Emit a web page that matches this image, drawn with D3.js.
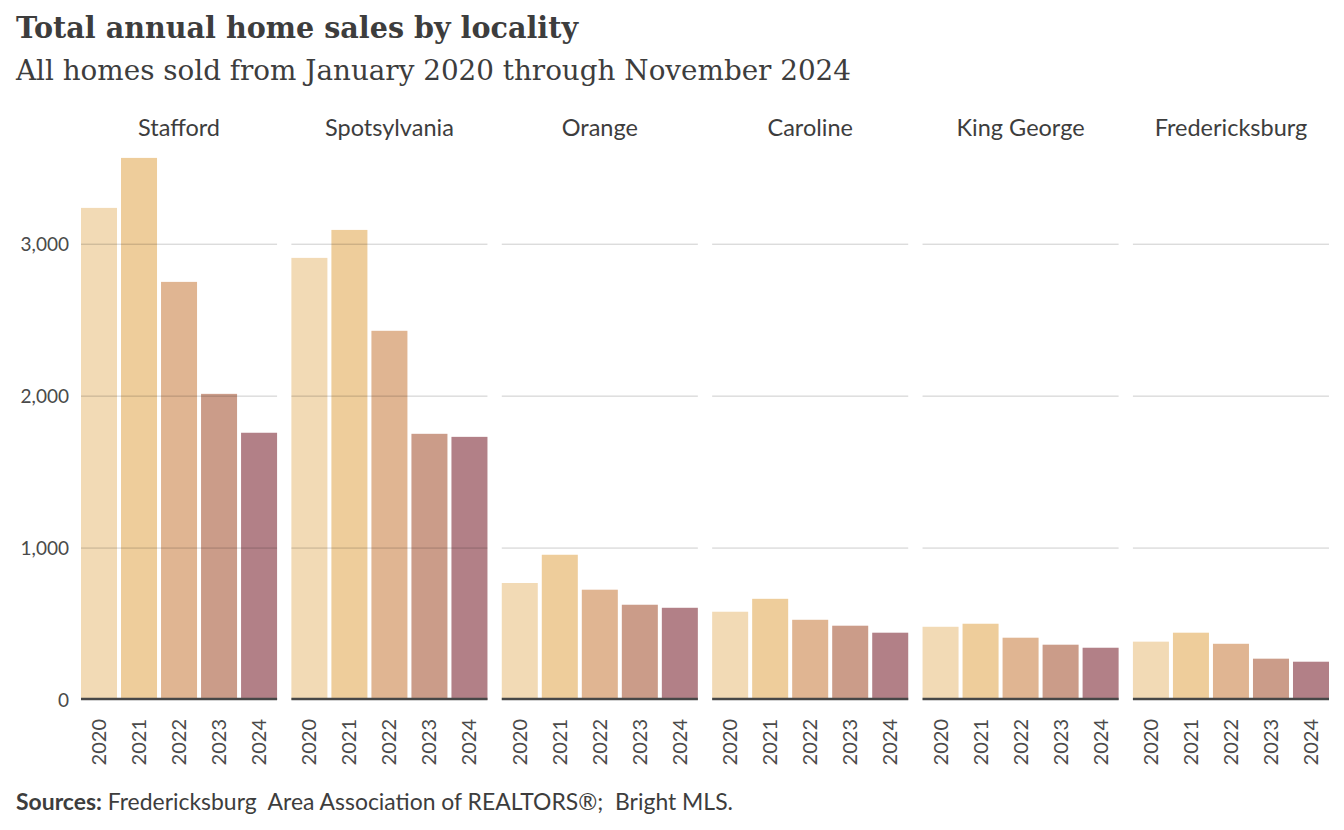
<!DOCTYPE html>
<html>
<head>
<meta charset="utf-8">
<script src="https://cdn.jsdelivr.net/npm/d3@7/dist/d3.min.js"></script>
<style>
  body { margin: 0; background: #fff; }
  svg { display: block; }
</style>
</head>
<body>
<div id="chart"></div>
<script>
// data
var localities = ["Stafford", "Spotsylvania", "Orange", "Caroline", "King George", "Fredericksburg"];
var years = ["2020", "2021", "2022", "2023", "2024"];
var sales = {
    "Stafford":       [3239, 3568, 2752, 2015, 1759],
    "Spotsylvania":   [2910, 3094, 2430, 1752, 1732],
    "Orange":         [770, 956, 726, 627, 607],
    "Caroline":       [581, 666, 528, 489, 443],
    "King George":    [482, 502, 410, 364, 344],
    "Fredericksburg": [384, 443, 370, 272, 252]
};
var yTicks = [0, 1000, 2000, 3000];
var yearColors = ["#f2dab5", "#eecd9b", "#e0b592", "#cb9c89", "#b28087"];

var W = 1344, H = 830;
var svg = d3.select("#chart").append("svg")
    .attr("width", W)
    .attr("height", H);

var ink = "#3d3d3d";

// title + subtitle, slab serif squeezed to the reference width
function fitText(sel, width) {
    var w = sel.node().getComputedTextLength();
    if (w > width) sel.attr("textLength", width).attr("lengthAdjust", "spacingAndGlyphs");
}
var title = svg.append("text")
    .attr("x", 16).attr("y", 38)
    .style("font-family", "'DejaVu Serif', serif")
    .style("font-weight", "bold")
    .style("font-size", "30px")
    .style("fill", ink)
    .text("Total annual home sales by locality");
fitText(title, 562);

var sub = svg.append("text")
    .attr("x", 16).attr("y", 80)
    .style("font-family", "'DejaVu Serif', serif")
    .style("font-size", "28px")
    .style("fill", ink)
    .text("All homes sold from January 2020 through November 2024");
fitText(sub, 835);

// scales
var y = d3.scaleLinear().domain([0, 3620]).range([700, 150]);
var x0 = d3.scaleBand().domain(localities).range([81, 1329]).paddingInner(0.068);
var x1 = d3.scaleBand().domain(years).range([0, x0.bandwidth()]).paddingInner(0.1);
var color = d3.scaleOrdinal().domain(years).range(yearColors);

// y axis labels
svg.append("g")
    .selectAll("text")
    .data(yTicks)
    .join("text")
    .attr("x", 69)
    .attr("y", function (d) { return y(d); })
    .attr("dy", "0.35em")
    .attr("text-anchor", "end")
    .style("font-family", "Lato, sans-serif")
    .style("font-size", "19px")
    .style("fill", "#4a4a4a")
    .text(d3.format(","));

var panels = svg.append("g")
    .selectAll("g")
    .data(localities)
    .join("g")
    .attr("transform", function (d) { return "translate(" + x0(d) + ",0)"; });

// facet label
panels.append("text")
    .attr("x", x0.bandwidth() / 2)
    .attr("y", 136)
    .attr("text-anchor", "middle")
    .style("font-family", "Lato, sans-serif")
    .style("font-size", "23.5px")
    .style("fill", ink)
    .text(function (d) { return d; });

// bars
panels.selectAll("rect")
    .data(function (d) {
        return sales[d].map(function (v, i) { return { year: years[i], value: v }; });
    })
    .join("rect")
    .attr("x", function (d) { return x1(d.year); })
    .attr("width", x1.bandwidth())
    .attr("y", function (d) { return y(d.value); })
    .attr("height", function (d) { return y(0) - y(d.value); })
    .attr("fill", function (d) { return color(d.year); });

// gridlines on top, translucent so they tint the bars
panels.selectAll("line.grid")
    .data(yTicks.filter(function (t) { return t > 0; }))
    .join("line")
    .attr("class", "grid")
    .attr("x1", 0).attr("x2", x0.bandwidth())
    .attr("y1", function (d) { return y(d); })
    .attr("y2", function (d) { return y(d); })
    .attr("stroke", "#000")
    .attr("stroke-opacity", 0.2)
    .attr("stroke-width", 1);

// baseline
panels.append("line")
    .attr("x1", 0).attr("x2", x0.bandwidth())
    .attr("y1", y(0) - 1).attr("y2", y(0) - 1)
    .attr("stroke", "#474747")
    .attr("stroke-width", 2.5);

// year labels, rotated
panels.selectAll("text.year")
    .data(years)
    .join("text")
    .attr("class", "year")
    .attr("transform", function (d) {
        return "translate(" + (x1(d) + x1.bandwidth() / 2) + "," + (y(0) + 19) + ") rotate(-90)";
    })
    .attr("dy", "0.35em")
    .attr("text-anchor", "end")
    .style("font-family", "Lato, sans-serif")
    .style("font-size", "20px")
    .style("fill", "#4a4a4a")
    .text(function (d) { return d; });

// source note (double spaces kept as in the original)
var src = svg.append("text")
    .attr("x", 16).attr("y", 810)
    .style("font-family", "Lato, sans-serif")
    .style("font-size", "23px")
    .style("white-space", "pre")
    .style("fill", ink);
src.append("tspan").style("font-weight", "bold").text("Sources:");
src.append("tspan").text(" Fredericksburg  Area Association of REALTORS\u00ae;  Bright MLS.");
fitText(src, 717);
</script>
</body>
</html>
